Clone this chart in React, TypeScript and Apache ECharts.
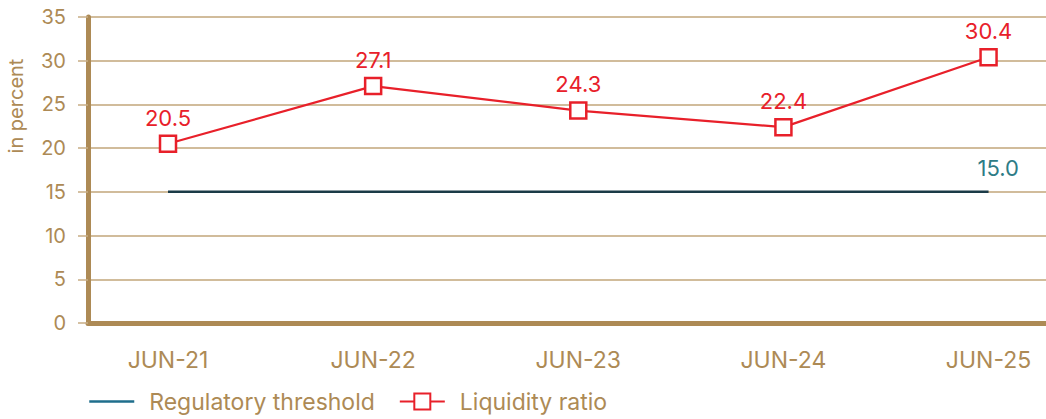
import React, { useEffect, useRef } from "react";
import * as echarts from "echarts";

const categories = ["JUN-21", "JUN-22", "JUN-23", "JUN-24", "JUN-25"];
const liquidityRatio = [20.5, 27.1, 24.3, 22.4, 30.4];
const regulatoryThreshold = [15.0, 15.0, 15.0, 15.0, 15.0];
const yTicks = { min: 0, max: 35, interval: 5 };

const GOLD = "#ad8a55";
const FONT = "Inter, 'Noto Sans', sans-serif";

export default function App() {
  const ref = useRef<HTMLDivElement>(null);
  useEffect(() => {
    if (!ref.current) return;
    const chart = echarts.init(ref.current, null, { renderer: "svg" });
    const idx = categories.map((_, i) => i);
    chart.setOption({
      animation: false,
      textStyle: { fontFamily: FONT },
      grid: { left: 88, right: 0, top: 17, bottom: 96 },
      xAxis: {
        type: "value",
        min: -0.39,
        max: 4.28,
        axisLine: { show: true, onZero: false, lineStyle: { color: GOLD, width: 5 } },
        axisTick: { show: false },
        splitLine: { show: false },
        axisLabel: {
          customValues: idx,
          formatter: (v: number) => categories[Math.round(v)] ?? "",
          color: GOLD,
          fontSize: 23,
          margin: 25,
          fontFamily: FONT,
        },
      },
      yAxis: {
        type: "value",
        min: yTicks.min,
        max: yTicks.max,
        interval: yTicks.interval,
        axisLine: { show: true, onZero: false, lineStyle: { color: GOLD, width: 5 } },
        axisTick: { show: true, length: 10, lineStyle: { color: "#c7ad85", width: 1.5 } },
        splitLine: { show: true, lineStyle: { color: "#c2a67a", width: 1.5 } },
        axisLabel: { color: GOLD, fontSize: 20, margin: 22, fontFamily: FONT },
      },
      legend: {
        left: 88,
        top: 390,
        padding: 0,
        itemWidth: 45,
        itemHeight: 20,
        itemGap: 24,
        textStyle: { color: GOLD, fontSize: 23, fontFamily: FONT, padding: [0, 0, 0, 10] },
        data: [
          {
            name: "Regulatory threshold",
            itemStyle: { color: "transparent", borderWidth: 0, opacity: 0 },
            lineStyle: { color: "#1f6e8c", width: 2.5 },
          },
          { name: "Liquidity ratio" },
        ],
      },
      graphic: [
        {
          type: "text",
          x: 16,
          y: 106,
          rotation: Math.PI / 2,
          style: {
            text: "in percent",
            fill: GOLD,
            fontSize: 20,
            fontFamily: FONT,
            textAlign: "center",
            textVerticalAlign: "middle",
          },
        },
      ],
      series: [
        {
          name: "Regulatory threshold",
          type: "line",
          symbol: "none",
          data: regulatoryThreshold.map((v, i) => [i, v]),
          itemStyle: { color: "#1f6e8c" },
          lineStyle: { color: "#1b3b47", width: 2.5 },
          endLabel: {
            show: true,
            offset: [-19, -24],
            color: "#2e7c86",
            fontSize: 22,
            fontFamily: FONT,
            formatter: (p: any) => Number(p.value[1]).toFixed(1),
          },
          z: 2,
        },
        {
          name: "Liquidity ratio",
          type: "line",
          symbol: "rect",
          symbolSize: 16,
          data: liquidityRatio.map((v, i) => [i, v]),
          lineStyle: { color: "#e8202a", width: 2.2 },
          itemStyle: { color: "#ffffff", borderColor: "#e8202a", borderWidth: 2.5 },
          label: {
            show: true,
            position: "top",
            distance: 6,
            color: "#e8202a",
            fontSize: 22,
            fontFamily: FONT,
            formatter: (p: any) => p.value[1].toFixed(1),
          },
          z: 3,
        },
      ],
    });
    return () => chart.dispose();
  }, []);
  return (
    <div
      ref={ref}
      style={{ position: "absolute", left: 0, top: 0, width: 1046, height: 419, background: "#fff" }}
    />
  );
}
